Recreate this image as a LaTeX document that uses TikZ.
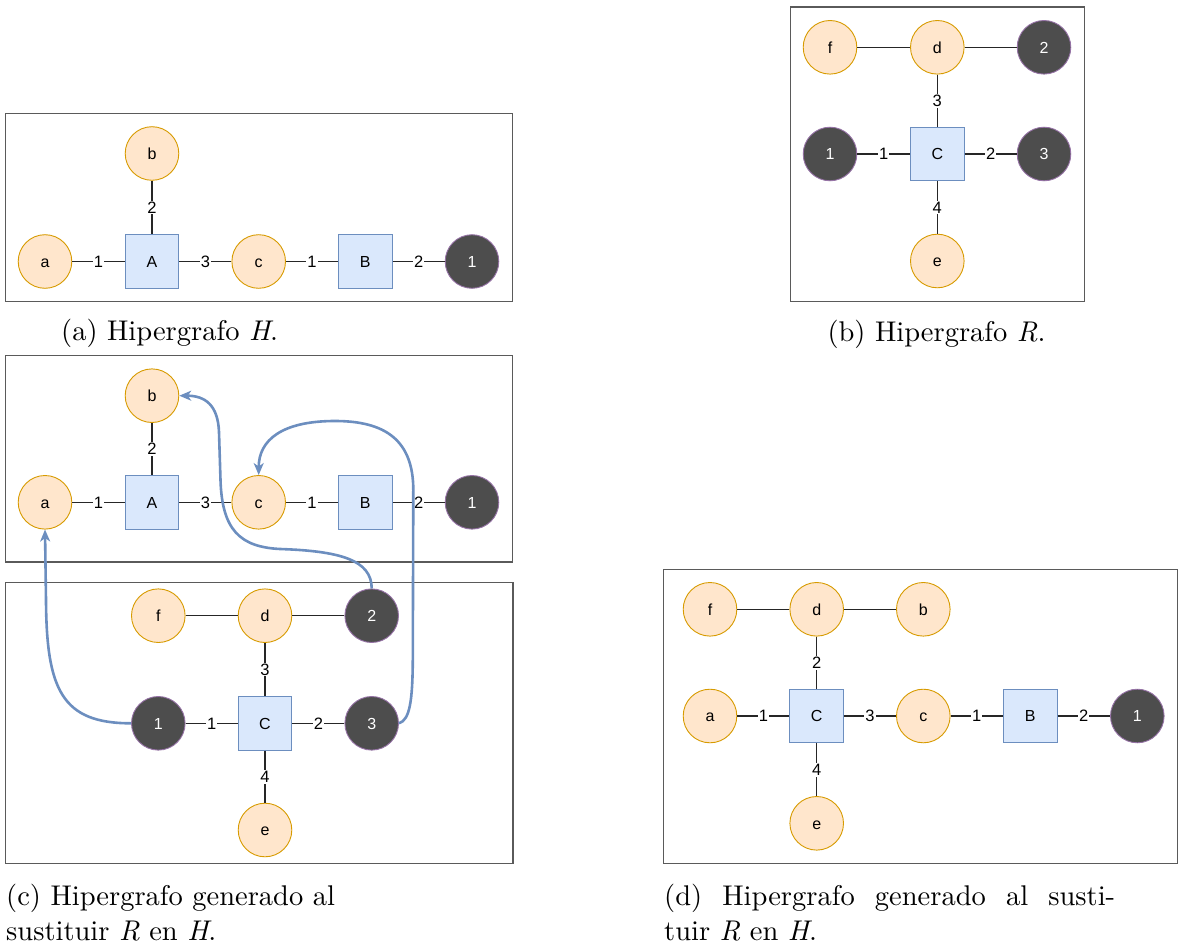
\documentclass[tikz,border=0pt]{standalone}
\usepackage{fontspec}
\newfontfamily\nodefont{Liberation Sans}
\newfontfamily\capfont{lmroman10-regular.otf}[ItalicFont=lmroman10-italic.otf]
\usetikzlibrary{arrows.meta}
\definecolor{orfill}{HTML}{FFE6CC}
\definecolor{orstroke}{HTML}{D79B00}
\definecolor{blfill}{HTML}{DAE8FC}
\definecolor{blstroke}{HTML}{6C8EBF}
\definecolor{extfill}{HTML}{4D4D4D}
\definecolor{extstroke}{HTML}{9673A6}
\definecolor{edgec}{HTML}{262626}
\definecolor{framec}{HTML}{5A5A5A}
\definecolor{arrowc}{HTML}{6C8EBF}
\begin{document}
\begin{tikzpicture}[x=1pt,y=-1pt,
  vert/.style={circle,draw=orstroke,fill=orfill,line width=0.9pt,minimum size=53.6pt,inner sep=0pt,
    font=\nodefont\fontsize{16}{16}\selectfont,text height=11.5pt,text depth=0pt},
  ext/.style={vert,draw=extstroke,fill=extfill,text=white},
  hedge/.style={rectangle,draw=blstroke,fill=blfill,line width=0.9pt,minimum size=53.6pt,inner sep=0pt,
    font=\nodefont\fontsize{16}{16}\selectfont,text height=11.5pt,text depth=0pt},
  tent/.style={draw=edgec,line width=1.4pt},
  lab/.style={fill=white,inner sep=1pt,font=\nodefont\fontsize{16.5}{16.5}\selectfont,text height=11.8pt,text depth=0pt},
  frame/.style={draw=framec,line width=1.3pt},
  link/.style={draw=arrowc,line width=2.6pt,-{Stealth[length=12pt,width=10pt,inset=3.5pt]}},
  captext/.style={anchor=base west,inner sep=0pt,font=\capfont\fontsize{28.5}{35}\selectfont}
]
\useasboundingbox (0,0) rectangle (1179,947);

% ---------- Panel (a) ----------
\draw[frame] (5.3,113.3) rectangle (512.7,301.3);
\node[vert] (pa-b) at (152,153.5) {b};
\node[vert] (pa-a) at (45,261.5) {a};
\node[hedge] (pa-A) at (152,261.5) {A};
\node[vert] (pa-c) at (258.7,261.5) {c};
\node[hedge] (pa-B) at (365.3,261.5) {B};
\node[ext] (pa-1) at (472,261.5) {1};
\draw[tent] (pa-a) -- node[lab]{1} (pa-A);
\draw[tent] (pa-b) -- node[lab]{2} (pa-A);
\draw[tent] (pa-A) -- node[lab]{3} (pa-c);
\draw[tent] (pa-c) -- node[lab]{1} (pa-B);
\draw[tent] (pa-B) -- node[lab]{2} (pa-1);
\node[captext] (capa) at (61,340.5) {(a) Hipergrafo \textit{H}.};

% ---------- Panel (b) ----------
\draw[frame] (790.3,7) rectangle (1084.7,301.7);
\node[vert] (pb-f) at (830,47.3) {f};
\node[vert] (pb-d) at (937.3,47.3) {d};
\node[ext] (pb-2) at (1044,47.3) {2};
\node[ext] (pb-1) at (830,154) {1};
\node[hedge] (pb-C) at (937.3,154) {C};
\node[ext] (pb-3) at (1044,154) {3};
\node[vert] (pb-e) at (937.3,261) {e};
\draw[tent] (pb-f) -- (pb-d);
\draw[tent] (pb-d) -- (pb-2);
\draw[tent] (pb-d) -- node[lab]{3} (pb-C);
\draw[tent] (pb-1) -- node[lab]{1} (pb-C);
\draw[tent] (pb-C) -- node[lab]{2} (pb-3);
\draw[tent] (pb-C) -- node[lab]{4} (pb-e);
\node[captext] (capb) at (827.3,341) {(b) Hipergrafo \textit{R}.};

% ---------- Panel (c) top ----------
\draw[frame] (5.3,355.7) rectangle (512.7,562);
\node[vert] (pc-b) at (152,395.7) {b};
\node[vert] (pc-a) at (45,502.3) {a};
\node[hedge] (pc-A) at (152,502.3) {A};
\node[vert] (pc-c) at (258.7,502.3) {c};
\node[hedge] (pc-B) at (365.3,502.3) {B};
\node[ext] (pc-1) at (472,502.3) {1};
\draw[tent] (pc-a) -- node[lab]{1} (pc-A);
\draw[tent] (pc-b) -- node[lab]{2} (pc-A);
\draw[tent] (pc-A) -- node[lab]{3} (pc-c);
\draw[tent] (pc-c) -- node[lab]{1} (pc-B);
\draw[tent] (pc-B) -- node[lab]{2} (pc-1);

% ---------- Panel (c) bottom ----------
\draw[frame] (5.3,582.7) rectangle (513,863.3);
\node[vert] (pr-f) at (158.3,615.7) {f};
\node[vert] (pr-d) at (265,615.7) {d};
\node[ext] (pr-2) at (371.7,615.7) {2};
\node[ext] (pr-1) at (158.3,723.3) {1};
\node[hedge] (pr-C) at (265,723.3) {C};
\node[ext] (pr-3) at (371.7,723.3) {3};
\node[vert] (pr-e) at (265,830) {e};
\draw[tent] (pr-f) -- (pr-d);
\draw[tent] (pr-d) -- (pr-2);
\draw[tent] (pr-d) -- node[lab]{3} (pr-C);
\draw[tent] (pr-1) -- node[lab]{1} (pr-C);
\draw[tent] (pr-C) -- node[lab]{2} (pr-3);
\draw[tent] (pr-C) -- node[lab]{4} (pr-e);

% blue substitution arrows
\draw[link] (pr-1.west) .. controls (62,723.3) and (46.5,690) .. (46,600) -- (pc-a.south);
\draw[link] (pr-2.north) .. controls (371.7,560) and (340,551) .. (280,549)
  .. controls (240,547) and (222,530) .. (220.5,480) -- (219,432)
  .. controls (218,405) and (205,395.7) .. (pc-b.east);
\draw[link] (pr-3.east) .. controls (410,720) and (412.5,700) .. (412.8,660) -- (413.3,490)
  .. controls (413.3,440) and (385,421) .. (335,421)
  .. controls (282,421) and (258.7,440) .. (pc-c.north);

\node[captext] (capc1) at (6,905) {(c) Hipergrafo generado al};
\node[captext] (capc2) at (6,940) {sustituir \textit{R} en \textit{H}.};

% ---------- Panel (d) ----------
\draw[frame] (663.3,569.3) rectangle (1177.7,863.3);
\node[vert] (pd-f) at (710,609.3) {f};
\node[vert] (pd-d) at (816.7,609.3) {d};
\node[vert] (pd-b) at (923.3,609.3) {b};
\node[vert] (pd-a) at (710,716) {a};
\node[hedge] (pd-C) at (816.7,716) {C};
\node[vert] (pd-c) at (923.3,716) {c};
\node[hedge] (pd-B) at (1030.3,716) {B};
\node[ext] (pd-1) at (1137.3,716) {1};
\node[vert] (pd-e) at (816.7,823.3) {e};
\draw[tent] (pd-f) -- (pd-d);
\draw[tent] (pd-d) -- (pd-b);
\draw[tent] (pd-d) -- node[lab]{2} (pd-C);
\draw[tent] (pd-a) -- node[lab]{1} (pd-C);
\draw[tent] (pd-C) -- node[lab]{3} (pd-c);
\draw[tent] (pd-C) -- node[lab]{4} (pd-e);
\draw[tent] (pd-c) -- node[lab]{1} (pd-B);
\draw[tent] (pd-B) -- node[lab]{2} (pd-1);

\node[captext] (capd1) at (664,905) {\makebox[451pt][s]{(d) Hipergrafo generado al susti-}};
\node[captext] (capd2) at (664,940) {tuir \textit{R} en \textit{H}.};
\end{tikzpicture}
\end{document}
